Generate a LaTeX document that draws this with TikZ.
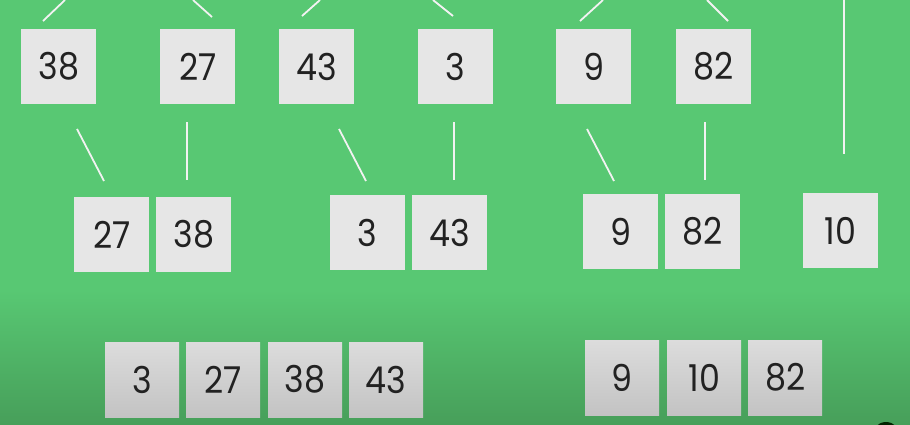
\documentclass[tikz,border=0pt]{standalone}
\usepackage{fontspec}
\setmainfont[FakeStretch=0.9]{Poppins}
\definecolor{bggreen}{HTML}{58C873}
\definecolor{bgdark}{HTML}{479F5A}
\definecolor{boxgray}{HTML}{E6E6E6}
\definecolor{boxtop}{HTML}{DCDCDC}
\definecolor{boxbot}{HTML}{C3C3C3}
\definecolor{txt}{HTML}{222222}
\definecolor{linew}{HTML}{F2F2F2}
\begin{document}
\begin{tikzpicture}[x=1pt,y=-1pt,
  box/.style={fill=boxgray,minimum width=75pt,minimum height=75pt,inner sep=0pt,anchor=north west,text=txt,font=\fontsize{37}{37}\selectfont},
  boxb/.style={box,fill=none,top color=boxtop,bottom color=boxbot,minimum width=74pt},
  link/.style={draw=linew,line width=1.8pt}]
\useasboundingbox (0,0) rectangle (910,424);
\fill[bggreen] (0,0) rectangle (910,424);
\shade[top color=bggreen,bottom color=bgdark] (0,290) rectangle (910,424);
\fill[black!65!green!40!black] (886,436) circle (14pt);
% row 1
\node[box] (a1) at (21,29) {38};
\node[box] (a2) at (160,29) {27};
\node[box] (a3) at (279,29) {43};
\node[box] (a4) at (418,29) {3};
\node[box] (a5) at (556,29) {9};
\node[box] (a6) at (676,29) {82};
% row 2
\node[box] (b1) at (74,197) {27};
\node[box] (b2) at (156,197) {38};
\node[box] (b3) at (330,195) {3};
\node[box] (b4) at (412,195) {43};
\node[box] (b5) at (583,194) {9};
\node[box] (b6) at (665,194) {82};
\node[box] (b7) at (803,193) {10};
% row 3
\node[boxb] (c1) at (105,342) {3};
\node[boxb] (c2) at (186,342) {27};
\node[boxb] (c3) at (268,342) {38};
\node[boxb] (c4) at (349,342) {43};
\node[boxb] (c5) at (585,340) {9};
\node[boxb] (c6) at (667,340) {10};
\node[boxb] (c7) at (748,340) {82};
% top connector ends
\coordinate (t1a) at (43,21);  \coordinate (t1b) at (65,0);
\coordinate (t2a) at (212,17); \coordinate (t2b) at (193,0);
\coordinate (t3a) at (302,16); \coordinate (t3b) at (320,0);
\coordinate (t4a) at (453,16); \coordinate (t4b) at (433,0);
\coordinate (t5a) at (580,21); \coordinate (t5b) at (603,0);
\coordinate (t6a) at (728,21); \coordinate (t6b) at (707,0);
\coordinate (t7a) at (844,0);  \coordinate (t7b) at (844,154);
\foreach \i in {1,...,7} {\draw[link] (t\i a) -- (t\i b);}
% middle connectors
\coordinate (m1a) at (77,129);  \coordinate (m1b) at (104,181);
\coordinate (m2a) at (187,122); \coordinate (m2b) at (187,180);
\coordinate (m3a) at (339,129); \coordinate (m3b) at (366,181);
\coordinate (m4a) at (454,122); \coordinate (m4b) at (454,180);
\coordinate (m5a) at (587,129); \coordinate (m5b) at (614,181);
\coordinate (m6a) at (705,122); \coordinate (m6b) at (705,180);
\foreach \i in {1,...,6} {\draw[link] (m\i a) -- (m\i b);}
\end{tikzpicture}
\end{document}
